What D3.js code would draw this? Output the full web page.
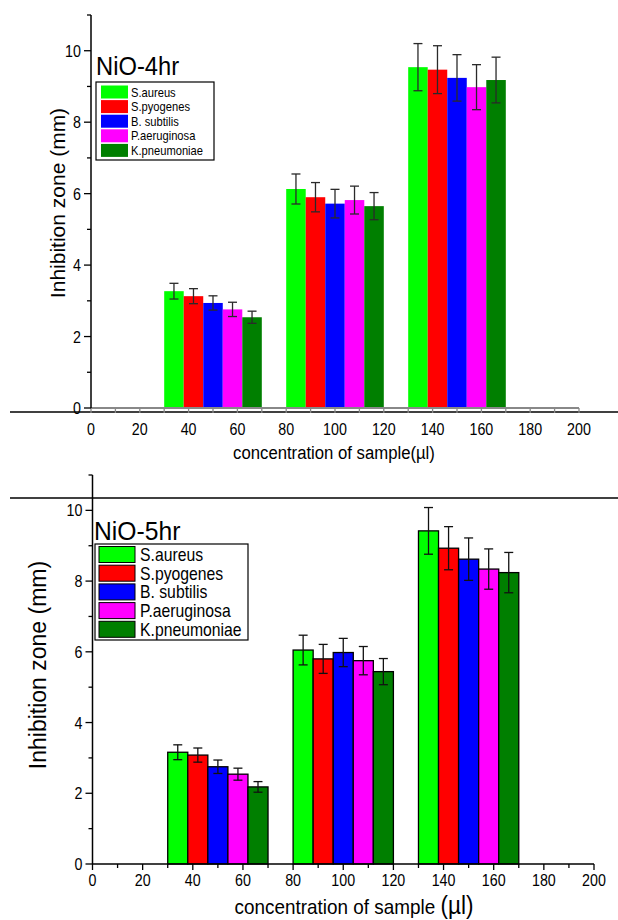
<!DOCTYPE html>
<html>
<head>
<meta charset="utf-8">
<script src="https://cdn.jsdelivr.net/npm/d3@7"></script>
<style>
  html, body { margin: 0; padding: 0; background: #fff; }
  svg { display: block; font-family: "Liberation Sans", Arial, sans-serif; }
</style>
</head>
<body>
<svg id="fig" width="618" height="920"></svg>
<script>
// Bacterial strains tested (one bar per strain in each group)
const strains = ["S.aureus", "S.pyogenes", "B. subtilis", "P.aeruginosa", "K.pneumoniae"];
// Centre of each concentration group on the x axis (µl)
const groupCenters = [50, 100, 150];
// Axis tick labels
const xTicks = [0, 20, 40, 60, 80, 100, 120, 140, 160, 180, 200];
const yTicks = [0, 2, 4, 6, 8, 10];

// NiO-4hr: inhibition zone (mm), rows = concentration groups, columns = strains
const nio4Means = [
  [3.27, 3.13, 2.94, 2.76, 2.54],
  [6.13, 5.90, 5.72, 5.82, 5.65],
  [9.54, 9.47, 9.24, 8.98, 9.18]
];
const nio4Errors = [
  [0.22, 0.21, 0.20, 0.20, 0.17],
  [0.42, 0.41, 0.40, 0.39, 0.38],
  [0.66, 0.67, 0.65, 0.63, 0.64]
];

// NiO-5hr
const nio5Means = [
  [3.16, 3.08, 2.75, 2.54, 2.18],
  [6.05, 5.80, 5.98, 5.75, 5.44],
  [9.42, 8.93, 8.62, 8.34, 8.24]
];
const nio5Errors = [
  [0.21, 0.20, 0.19, 0.17, 0.15],
  [0.42, 0.41, 0.40, 0.40, 0.37],
  [0.66, 0.61, 0.60, 0.57, 0.57]
];

const strainColors = ["#00ff00", "#ff0000", "#0000ff", "#ff00ff", "#007f00"];
const barWidthUnits = 8;

const svg = d3.select("#fig");

function drawPanel(cfg) {
  const x = d3.scaleLinear().domain([0, 200]).range([cfg.left, cfg.right]);
  const y = d3.scaleLinear().domain([0, 11]).range([cfg.bottom, cfg.top]);
  const g = svg.append("g");

  // one record per (group, strain)
  const rows = [];
  cfg.means.forEach((row, gi) => row.forEach((v, si) => {
    rows.push({ gi, si, v, e: cfg.errors[gi][si],
      x0: groupCenters[gi] - 2.5 * barWidthUnits + si * barWidthUnits });
  }));

  // bars
  g.selectAll("rect.bar").data(rows).enter().append("rect")
    .attr("class", "bar")
    .attr("x", d => x(d.x0))
    .attr("width", d => x(d.x0 + barWidthUnits) - x(d.x0))
    .attr("y", d => y(d.v))
    .attr("height", d => y(0) - y(d.v))
    .attr("fill", d => strainColors[d.si])
    .attr("stroke", cfg.barStroke)
    .attr("stroke-width", cfg.barStroke === "none" ? 0 : 1.3);

  // error bars
  const eb = g.selectAll("g.err").data(rows).enter().append("g")
    .attr("class", "err")
    .attr("stroke", cfg.errColor)
    .attr("stroke-width", 1.3);
  const cx = d => x(d.x0 + barWidthUnits / 2);
  eb.append("line").attr("x1", cx).attr("x2", cx)
    .attr("y1", d => y(d.v + d.e)).attr("y2", d => y(d.v - d.e));
  [1, -1].forEach(s => {
    eb.append("line")
      .attr("x1", d => cx(d) - 4.5).attr("x2", d => cx(d) + 4.5)
      .attr("y1", d => y(d.v + s * d.e)).attr("y2", d => y(d.v + s * d.e));
  });

  // separator rule
  g.append("line")
    .attr("x1", 10).attr("x2", 618)
    .attr("y1", cfg.sepY).attr("y2", cfg.sepY)
    .attr("stroke", "#000").attr("stroke-width", 1.5);

  // x axis
  const xAxis = g.append("g").attr("transform", `translate(0,${cfg.bottom})`);
  xAxis.append("line").attr("x1", x(0)).attr("x2", x(200))
    .attr("stroke", cfg.xAxisColor).attr("stroke-width", cfg.xAxisWidth);
  xAxis.selectAll("line.tick").data(d3.range(0, 201, 10)).enter().append("line")
    .attr("x1", d => x(d)).attr("x2", d => x(d))
    .attr("y1", 0).attr("y2", d => d % 20 === 0 ? cfg.xMajor : cfg.xMinor)
    .attr("stroke", cfg.xAxisColor).attr("stroke-width", 1.3);
  xAxis.selectAll("text").data(xTicks).enter().append("text")
    .attr("transform", d => `translate(${x(d)},${cfg.xLabelDy}) scale(0.84,1)`)
    .attr("text-anchor", "middle")
    .attr("font-size", 17)
    .text(d => d);

  // y axis
  const yAxis = g.append("g").attr("transform", `translate(${cfg.left},0)`);
  yAxis.append("line").attr("y1", y(0)).attr("y2", y(11))
    .attr("stroke", "#000").attr("stroke-width", 1.5);
  yAxis.selectAll("line.t").data(d3.range(0, 12)).enter().append("line")
    .attr("x1", d => d % 2 === 0 ? -7 : -4).attr("x2", 0)
    .attr("y1", d => y(d)).attr("y2", d => y(d))
    .attr("stroke", "#000").attr("stroke-width", 1.3);
  yAxis.selectAll("text").data(yTicks).enter().append("text")
    .attr("transform", d => `translate(-10,${y(d) + 6}) scale(0.84,1)`)
    .attr("text-anchor", "end")
    .attr("font-size", 17)
    .text(d => d);

  // axis titles
  g.append("text")
    .attr("transform", `translate(${cfg.yTitleX},${cfg.yTitleY}) rotate(-90)`)
    .attr("text-anchor", "middle")
    .attr("font-size", cfg.yTitleSize)
    .text("Inhibition zone (mm)");

  const xt = g.append("text")
    .attr("transform", `translate(${cfg.xTitleX},${cfg.xTitleY}) scale(${cfg.xTitleSx},1)`)
    .attr("text-anchor", "middle")
    .attr("font-size", cfg.xTitleSize);
  xt.append("tspan").text(cfg.xTitleMain);
  xt.append("tspan").attr("font-size", cfg.unitSize).text("(µl)");

  // panel title
  g.append("text")
    .attr("transform", `translate(${cfg.titleX},${cfg.titleY}) scale(0.95,1)`)
    .attr("font-size", cfg.titleSize)
    .text(cfg.title);

  // legend
  const L = cfg.legend;
  g.append("rect")
    .attr("x", L.x).attr("y", L.y).attr("width", L.w).attr("height", L.h)
    .attr("fill", "#fff").attr("stroke", "#000").attr("stroke-width", 1.2);
  const items = g.selectAll("g.leg").data(strains).enter().append("g")
    .attr("transform", (d, i) => `translate(${L.x + L.pad},${L.y + L.first + i * L.step})`);
  items.append("rect")
    .attr("x", 0).attr("y", -L.sh / 2).attr("width", L.sw).attr("height", L.sh)
    .attr("fill", (d, i) => strainColors[i])
    .attr("stroke", cfg.barStroke === "none" ? "none" : "#000")
    .attr("stroke-width", 1);
  items.append("text")
    .attr("transform", `translate(${L.sw + L.gap},${L.fs * 0.36}) scale(${L.sx},1)`)
    .attr("font-size", L.fs)
    .text(d => d);
}

drawPanel({
  left: 91, right: 579, top: 15, bottom: 408,
  means: nio4Means, errors: nio4Errors,
  barStroke: "none", errColor: "#2a2a2a",
  sepY: 412, xAxisColor: "#888", xAxisWidth: 2, xMajor: 5, xMinor: 5,
  xLabelDy: 27, yTitleX: 65, yTitleY: 203, yTitleSize: 21,
  xTitleX: 334, xTitleY: 459, xTitleSize: 19, xTitleSx: 0.88,
  xTitleMain: "concentration of sample", unitSize: 19,
  title: "NiO-4hr", titleX: 96, titleY: 75, titleSize: 25,
  legend: { x: 96, y: 82, w: 118, h: 78, pad: 5, first: 10, step: 14.6, sw: 27, sh: 13, gap: 3, fs: 13, sx: 0.86 }
});

drawPanel({
  left: 92.5, right: 594, top: 475, bottom: 864,
  means: nio5Means, errors: nio5Errors,
  barStroke: "#000", errColor: "#111",
  sepY: 498, xAxisColor: "#000", xAxisWidth: 1.6, xMajor: 6, xMinor: 4,
  xLabelDy: 22, yTitleX: 46, yTitleY: 665, yTitleSize: 23,
  xTitleX: 354, xTitleY: 914, xTitleSize: 21, xTitleSx: 0.9,
  xTitleMain: "concentration of sample ", unitSize: 25,
  title: "NiO-5hr", titleX: 94, titleY: 540, titleSize: 26,
  legend: { x: 95, y: 544, w: 153, h: 96, pad: 4, first: 10.5, step: 18.7, sw: 36, sh: 16, gap: 5, fs: 18, sx: 0.875 }
});
</script>
</body>
</html>
